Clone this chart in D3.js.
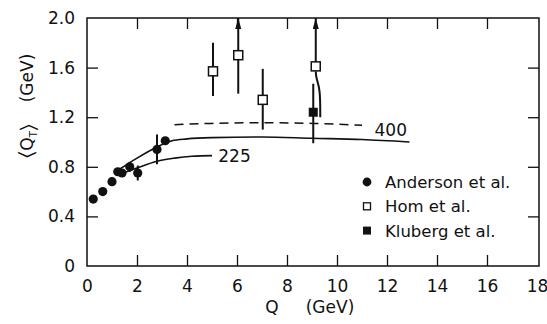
<!DOCTYPE html>
<html>
<head>
<meta charset="utf-8">
<script src="https://cdn.jsdelivr.net/npm/d3@7"></script>
<style>
  body { margin: 0; background: #fff; }
  svg text { font-family: "DejaVu Sans", sans-serif; fill: #111; }
</style>
</head>
<body>
<svg id="chart" width="547" height="324"></svg>
<script>
// data: <Q_T> vs Q
var anderson = [
  [0.25, 0.54, 0], [0.63, 0.60, 0], [1.0, 0.68, 0], [1.23, 0.76, 0],
  [1.4, 0.75, 0], [1.71, 0.80, 0.04], [2.03, 0.75, 0.06],
  [2.8, 0.94, 0.12], [3.13, 1.01, 0.03]
];
// x, y, lo, hi, arrow up
var hom = [
  [5.04, 1.57, 1.37, 1.80, false],
  [6.05, 1.70, 1.39, 2.0, true],
  [7.03, 1.34, 1.10, 1.59, false],
  [9.15, 1.61, null, 2.0, true]
];
var homBent = [[9.15, 1.57], [9.17, 1.51], [9.33, 1.43], [9.33, 1.20]];
var kluberg = [[9.05, 1.24, 0.99, 1.47]];

var curve400 = [[1.3, 0.78], [2.0, 0.87], [2.8, 0.96], [3.4, 1.01], [4.0, 1.025],
  [5.0, 1.035], [7.0, 1.04], [9.0, 1.03], [11.0, 1.02], [12.9, 1.0]];
var curve225 = [[1.4, 0.745], [2.0, 0.79], [2.8, 0.845], [3.5, 0.87], [4.2, 0.885], [5.0, 0.89]];
var dashed = [[3.5, 1.14], [5.0, 1.15], [7.0, 1.155], [9.0, 1.15], [11.0, 1.135]];

var xTicks = [0, 2, 4, 6, 8, 10, 12, 14, 16, 18];
var yTicks = [0, 0.4, 0.8, 1.2, 1.6, 2.0];
var legendNames = ["Anderson et al.", "Hom et al.", "Kluberg et al."];

var svg = d3.select("#chart");
var margin = {left: 87, right: 10, top: 18, bottom: 58};
var W = 537, H = 266;

var x = d3.scaleLinear().domain([0, 18]).range([margin.left, W]);
var y = d3.scaleLinear().domain([0, 2]).range([H, margin.top]);

var fmtY = function(d) { return d === 0 ? "0" : d3.format(".1f")(d); };

// frame
svg.append("rect")
  .attr("x", x(0)).attr("y", y(2))
  .attr("width", x(18) - x(0) + 2).attr("height", y(0) - y(2))
  .attr("fill", "none").attr("stroke", "#111").attr("stroke-width", 1.5);

function styleAxis(g) {
  g.select(".domain").remove();
  g.selectAll("line").attr("stroke", "#111").attr("stroke-width", 1.3);
  g.selectAll("text").style("font-size", "17px").attr("fill", "#111");
}

svg.append("g").attr("transform", "translate(0," + H + ")")
  .call(d3.axisBottom(x).tickValues(xTicks).tickFormat(d3.format("d")).tickSize(-11).tickPadding(14))
  .call(styleAxis)
  .call(function(g) { g.selectAll(".tick").filter(function(d) { return d === 0 || d === 18; }).select("line").remove(); });

svg.append("g").attr("transform", "translate(0," + y(2) + ")")
  .call(d3.axisTop(x).tickValues(xTicks.slice(1, -1)).tickFormat("").tickSize(-11))
  .call(styleAxis);

svg.append("g").attr("transform", "translate(" + x(0) + ",0)")
  .call(d3.axisLeft(y).tickValues(yTicks).tickFormat(fmtY).tickSize(-11).tickPadding(12))
  .call(styleAxis)
  .call(function(g) { g.selectAll(".tick").filter(function(d) { return d === 0 || d === 2; }).select("line").remove(); });

svg.append("g").attr("transform", "translate(" + (x(18) + 2) + ",0)")
  .call(d3.axisRight(y).tickValues(yTicks.slice(1, -1)).tickFormat("").tickSize(-11))
  .call(styleAxis);

// axis titles
svg.append("text")
  .attr("x", 272).attr("y", 313)
  .attr("text-anchor", "middle").style("font-size", "17px")
  .text("Q");
svg.append("text")
  .attr("x", 330).attr("y", 313)
  .attr("text-anchor", "middle").style("font-size", "17px")
  .text("(GeV)");

svg.append("text")
  .attr("transform", "translate(33,78) rotate(-90)")
  .attr("text-anchor", "middle").style("font-size", "17px")
  .text("(GeV)");
var yt = svg.append("text")
  .attr("transform", "translate(33,141) rotate(-90)")
  .attr("text-anchor", "middle").style("font-size", "17px");
yt.append("tspan").style("font-size", "21px").attr("dy", 1).text("\u2329");
yt.append("tspan").attr("dy", -1).text("Q");
yt.append("tspan").attr("dy", 4).style("font-size", "10px").text("T");
yt.append("tspan").attr("dy", -3).style("font-size", "21px").text("\u232A");

// curves
var line = d3.line().x(function(d) { return x(d[0]); }).y(function(d) { return y(d[1]); }).curve(d3.curveMonotoneX);

svg.append("path").datum(curve400).attr("d", line)
  .attr("fill", "none").attr("stroke", "#111").attr("stroke-width", 1.6);
svg.append("path").datum(curve225).attr("d", line)
  .attr("fill", "none").attr("stroke", "#111").attr("stroke-width", 1.6);
svg.append("path").datum(dashed).attr("d", line)
  .attr("fill", "none").attr("stroke", "#111").attr("stroke-width", 1.5)
  .attr("stroke-dasharray", "9,6");

svg.append("text").attr("x", x(11.5)).attr("y", y(1.1) + 6).style("font-size", "17px").text("400");
svg.append("text").attr("x", x(5.25)).attr("y", y(0.89) + 6).style("font-size", "17px").text("225");

// arrowhead
svg.append("defs").append("marker")
  .attr("id", "arrow").attr("viewBox", "0 0 10 10")
  .attr("refX", 10).attr("refY", 5)
  .attr("markerWidth", 11).attr("markerHeight", 6)
  .attr("markerUnits", "userSpaceOnUse")
  .attr("orient", "auto")
  .attr("preserveAspectRatio", "none")
  .append("path").attr("d", "M0,0 L10,5 L0,10 Z").attr("fill", "#111");

// error bars
var bars = svg.append("g").attr("stroke", "#111").attr("stroke-width", 2);
anderson.filter(function(d) { return d[2] > 0; }).forEach(function(d) {
  bars.append("line").attr("x1", x(d[0])).attr("x2", x(d[0]))
    .attr("y1", y(d[1] - d[2])).attr("y2", y(d[1] + d[2]));
});
hom.forEach(function(d) {
  if (d[2] !== null) {
    bars.append("line").attr("x1", x(d[0])).attr("x2", x(d[0]))
      .attr("y1", y(d[2])).attr("y2", y(d[1]));
  }
  var up = bars.append("line").attr("x1", x(d[0])).attr("x2", x(d[0]))
    .attr("y1", y(d[1])).attr("y2", y(d[3]));
  if (d[4]) up.attr("marker-end", "url(#arrow)");
});
svg.append("path").datum(homBent)
  .attr("d", d3.line().x(function(d) { return x(d[0]); }).y(function(d) { return y(d[1]); }).curve(d3.curveBasis))
  .attr("fill", "none").attr("stroke", "#111").attr("stroke-width", 2);
kluberg.forEach(function(d) {
  bars.append("line").attr("x1", x(d[0])).attr("x2", x(d[0]))
    .attr("y1", y(d[2])).attr("y2", y(d[3]));
});

// markers
svg.selectAll("circle.and").data(anderson).enter().append("circle")
  .attr("class", "and")
  .attr("cx", function(d) { return x(d[0]); })
  .attr("cy", function(d) { return y(d[1]); })
  .attr("r", 4.6).attr("fill", "#111");

svg.selectAll("rect.hom").data(hom).enter().append("rect")
  .attr("class", "hom")
  .attr("x", function(d) { return x(d[0]) - 4.5; })
  .attr("y", function(d) { return y(d[1]) - 4.5; })
  .attr("width", 9).attr("height", 9)
  .attr("fill", "#fff").attr("stroke", "#111").attr("stroke-width", 1.5);

svg.selectAll("rect.klu").data(kluberg).enter().append("rect")
  .attr("class", "klu")
  .attr("x", function(d) { return x(d[0]) - 4.5; })
  .attr("y", function(d) { return y(d[1]) - 4.5; })
  .attr("width", 9).attr("height", 9)
  .attr("fill", "#111");

// legend
var leg = svg.append("g").attr("transform", "translate(367,182)");
legendNames.forEach(function(name, i) {
  var row = leg.append("g").attr("transform", "translate(0," + (i * 24.3) + ")");
  if (i === 0) row.append("circle").attr("r", 4.4).attr("fill", "#111");
  if (i === 1) row.append("rect").attr("x", -3.5).attr("y", -3.5).attr("width", 7).attr("height", 7)
    .attr("fill", "#fff").attr("stroke", "#111").attr("stroke-width", 1.3);
  if (i === 2) row.append("rect").attr("x", -4).attr("y", -4).attr("width", 8).attr("height", 8).attr("fill", "#111");
  row.append("text").attr("x", 18).attr("y", 6).style("font-size", "16.5px").text(name);
});
</script>
</body>
</html>
